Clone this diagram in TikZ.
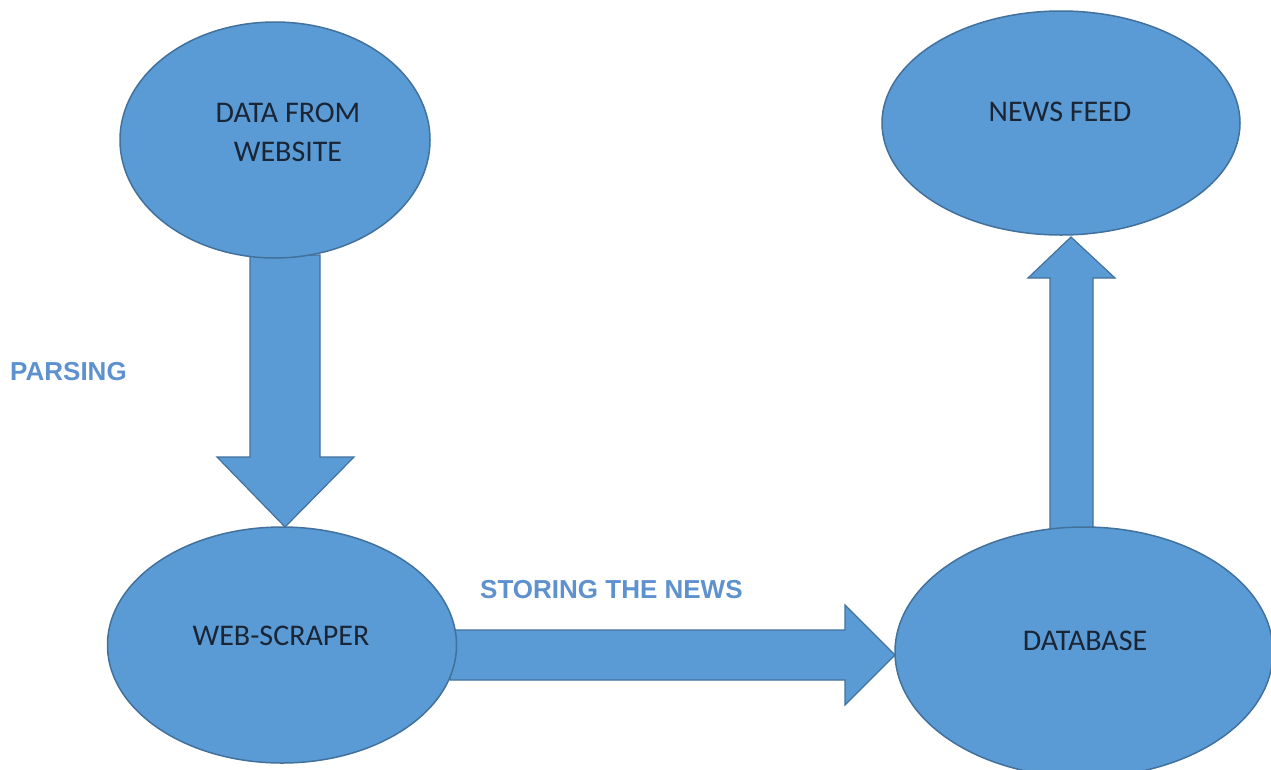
\documentclass[tikz,border=0pt]{standalone}
\usepackage{fontspec}
\setmainfont{Carlito}
\newfontfamily\labelfont{Liberation Sans}
\usetikzlibrary{shapes.geometric}
\definecolor{shapefill}{HTML}{5B9BD5}
\definecolor{shapeline}{HTML}{41719C}
\definecolor{labelblue}{HTML}{5E92CF}
\definecolor{textdark}{HTML}{1A2535}
\begin{document}
\begin{tikzpicture}[x=1pt,y=-1pt,
  bubble/.style={ellipse, fill=shapefill, draw=shapeline, line width=1.5pt, inner sep=0pt},
  bubbletext/.style={text=textdark, font=\fontsize{30}{39}\selectfont, align=center, inner sep=0pt},
  blockarrow/.style={fill=shapefill, draw=shapeline, line width=1.2pt, line join=miter},
  steplabel/.style={text=labelblue, font=\labelfont\bfseries\fontsize{26}{30}\selectfont, anchor=west, inner sep=0pt}]
\useasboundingbox (0,0) rectangle (1271,769);
\fill[white] (0,0) rectangle (1271,769);
\clip (0,0) rectangle (1271,769);
% block arrows (behind bubbles)
\draw[blockarrow] (250,255) -- (320,255) -- (320,457) -- (354,457) -- (285,527) -- (217,457) -- (250,457) -- cycle;
\draw[blockarrow] (450,630) -- (845,630) -- (845,605) -- (895,655) -- (845,705) -- (845,680) -- (450,680) -- cycle;
\draw[blockarrow] (1050,530) -- (1050,278) -- (1028,278) -- (1071,237) -- (1115,278) -- (1093,278) -- (1093,530) -- cycle;
% bubbles
\node[bubble, minimum width=310pt, minimum height=236pt] (data) at (275,140) {};
\node[bubble, minimum width=358pt, minimum height=224pt] (feed) at (1061,123) {};
\node[bubble, minimum width=349pt, minimum height=236pt] (scraper) at (282,645) {};
\node[bubble, minimum width=378pt, minimum height=250pt] (db) at (1084,652) {};
% bubble texts
\node[bubbletext] (datatext) at (288,132) {DATA FROM\\WEBSITE};
\node[bubbletext] (feedtext) at (1060,112) {NEWS FEED};
\node[bubbletext] (scrapertext) at (281,636) {WEB-SCRAPER};
\node[bubbletext] (dbtext) at (1085,641) {DATABASE};
% labels
\node[steplabel] (parsing) at (10,372) {PARSING};
\node[steplabel] (storing) at (480,590) {STORING THE NEWS};
\end{tikzpicture}
\end{document}
